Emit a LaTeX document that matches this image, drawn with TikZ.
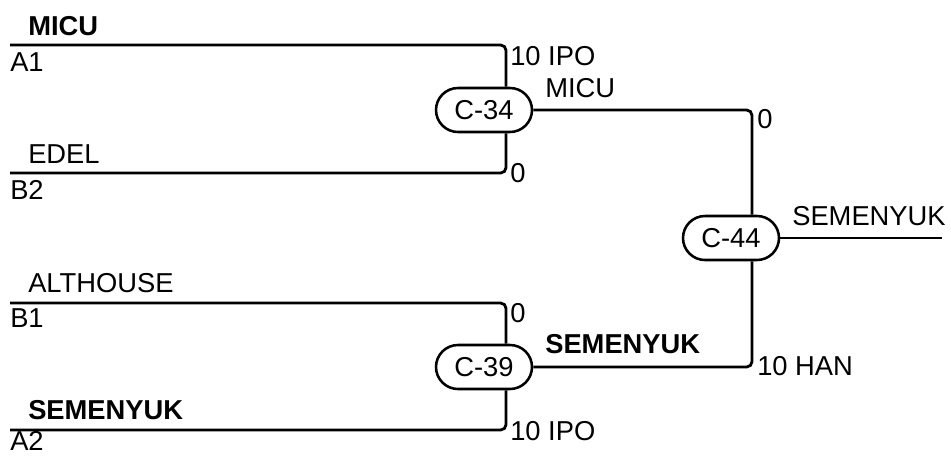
\documentclass[tikz,border=0pt]{standalone}
\usepackage{fontspec}
\setmainfont{Liberation Sans}
\usetikzlibrary{shapes.misc}

\begin{document}
\begin{tikzpicture}[x=0.75pt,y=-0.75pt,
    wire/.style={line width=2.1pt,rounded corners=4pt},
    match/.style={draw,line width=1.9pt,rounded rectangle,minimum width=72pt,minimum height=33pt,inner sep=0pt,font=\fontsize{20.5}{24}\selectfont},
    lbl/.style={anchor=base west,inner sep=0pt,font=\fontsize{20.5}{24}\selectfont},
    win/.style={lbl,font=\fontsize{20.5}{24}\selectfont\bfseries}]
    \useasboundingbox (0,0) rectangle (951,455);
    % games
    \node[match] (c34) at (484,110) {C-34};
    \node[match] (c39) at (484,367) {C-39};
    \node[match] (c44) at (731,238) {C-44};
    % draw lines
    \coordinate (a1) at (10,45);
    \coordinate (b2) at (10,173);
    \coordinate (b1) at (10,303);
    \coordinate (a2) at (10,430);
    \coordinate (out) at (942,238);
    \foreach \u/\v/\s in {a1/c34/north,b2/c34/south,b1/c39/north,a2/c39/south}
      \draw[wire] (\u) -| ([xshift=16.5pt]\v.\s);
    \foreach \u/\s in {c34/north,c39/south}
      \draw[wire] (\u.east) -| ([xshift=15.75pt]c44.\s);
    \draw[wire] (c44.east) -- (out);
    % team names
    \node[win] (n1) at (28,35) {MICU};
    \node[lbl] (s1) at (10,71) {A1};
    \node[lbl] (n2) at (28,163) {EDEL};
    \node[lbl] (s2) at (10,199) {B2};
    \node[lbl] (n3) at (28,292) {ALTHOUSE};
    \node[lbl] (s3) at (10,327) {B1};
    \node[win] (n4) at (28,419) {SEMENYUK};
    \node[lbl] (s4) at (10,450) {A2};
    % scores
    \node[lbl] (r1) at (510,65) {10 IPO};
    \node[lbl] (r2) at (510,182) {0};
    \node[lbl] (r3) at (510,322) {0};
    \node[lbl] (r4) at (510,440) {10 IPO};
    \node[lbl] (r5) at (757,128) {0};
    \node[lbl] (r6) at (757,375) {10 HAN};
    % winners
    \node[lbl] (w1) at (545,97) {MICU};
    \node[win] (w2) at (545,353) {SEMENYUK};
    \node[lbl] (w3) at (792,225) {SEMENYUK};
\end{tikzpicture}
\end{document}
